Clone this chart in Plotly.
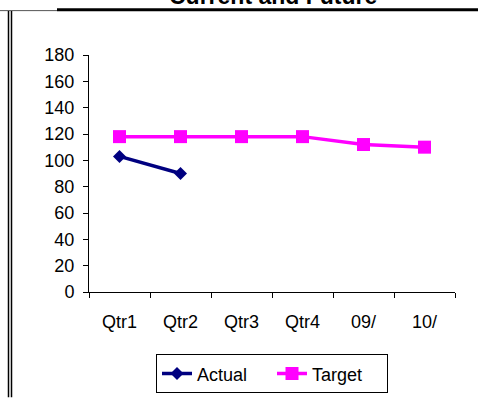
"""Line chart: Actual vs Target, current and future quarters."""

import plotly.graph_objects as go

categories = ["Qtr1", "Qtr2", "Qtr3", "Qtr4", "09/", "10/"]
actual = [103, 90, None, None, None, None]
target = [118, 118, 118, 118, 112, 110]

W, H = 478, 406
L, R, T, B = 89, 23, 55, 108
PW, PH = W - L - R, H - T - B
FONT = "Arial, Liberation Sans, sans-serif"


def px_x(px):
    return (px - L) / PW


def px_y(py):
    return (H - B - py) / PH


fig = go.Figure()
fig.add_trace(go.Scatter(
    x=categories, y=actual, name="Actual", mode="lines+markers",
    line=dict(color="#000080", width=3.5),
    marker=dict(symbol="diamond", size=10, color="#000080"),
))
fig.add_trace(go.Scatter(
    x=categories, y=target, name="Target", mode="lines+markers",
    line=dict(color="#FF00FF", width=3.5),
    marker=dict(symbol="square", size=13, color="#FF00FF"),
))

# sheet border bits visible around the cropped chart
frame = [
    dict(x0=px_x(0), x1=px_x(57), y0=px_y(9.5), y1=px_y(9.5), color="#555555", width=1),
    dict(x0=px_x(57), x1=px_x(W), y0=px_y(8.5), y1=px_y(8.5), color="black", width=3),
    dict(x0=px_x(8.5), x1=px_x(8.5), y0=px_y(10), y1=px_y(H), color="black", width=1.5),
    dict(x0=px_x(11.5), x1=px_x(11.5), y0=px_y(10), y1=px_y(H), color="black", width=1.5),
]
for f in frame:
    fig.add_shape(type="line", xref="paper", yref="paper",
                  x0=f["x0"], x1=f["x1"], y0=f["y0"], y1=f["y1"],
                  line=dict(color=f["color"], width=f["width"]))

fig.add_annotation(
    text="<b>Current and Future</b>", xref="paper", yref="paper",
    x=px_x(273), y=px_y(9), xanchor="center", yanchor="bottom",
    showarrow=False, borderpad=0, font=dict(family=FONT, size=23, color="black"),
)

fig.update_layout(
    width=W, height=H,
    margin=dict(l=L, r=R, t=T, b=B),
    paper_bgcolor="white", plot_bgcolor="white",
    font=dict(family=FONT, size=18, color="black"),
    showlegend=True,
    legend=dict(
        orientation="h", x=0.5, xanchor="center", y=px_y(362), yanchor="top",
        bordercolor="black", borderwidth=1, bgcolor="white",
        font=dict(size=18), itemwidth=30, tracegroupgap=0, entrywidth=70,
    ),
    xaxis=dict(
        type="category", range=[-0.5, 5.5], tickson="boundaries",
        ticks="outside", ticklen=5, tickcolor="black", showline=True,
        linecolor="black", linewidth=1, showgrid=False, zeroline=False,
        ticklabelstandoff=13,
    ),
    yaxis=dict(
        range=[0, 180], dtick=20, ticks="outside", ticklen=5,
        tickcolor="black", showline=True, linecolor="black", linewidth=1,
        showgrid=False, zeroline=False, ticklabelstandoff=5,
    ),
)

fig.write_html(
    "out.html",
    config={"displayModeBar": False},
    post_script="document.body.style.margin='0';",
)
